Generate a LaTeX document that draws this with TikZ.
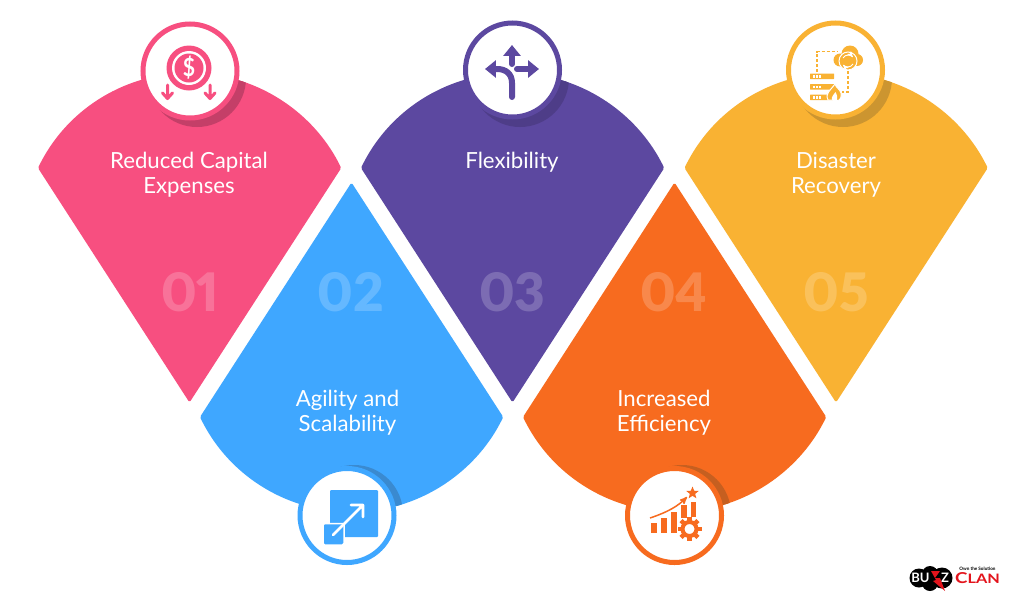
\documentclass[tikz,border=0pt]{standalone}
\usepackage{graphicx}
\usepackage{fontspec}
\setmainfont{Lato}
\newfontfamily\numfont[Numbers=Proportional]{Lato Black}
\usetikzlibrary{arrows, arrows.meta, shapes.geometric}
\definecolor{pinkc}{HTML}{F74F80}
\definecolor{pinkd}{HTML}{C43F68}
\definecolor{bluec}{HTML}{3FA7FF}
\definecolor{blued}{HTML}{3A8AD0}
\definecolor{purplec}{HTML}{5C48A0}
\definecolor{purpled}{HTML}{4E3D88}
\definecolor{orangec}{HTML}{F76B1F}
\definecolor{oranged}{HTML}{C65F20}
\definecolor{yellowc}{HTML}{F9B233}
\definecolor{yellowd}{HTML}{CC9530}
\definecolor{logored}{HTML}{E3141C}
\newcommand{\petaldown}[1]{(#1,402.5) -- ++(-151.5,-234.5) arc[start angle=205.8, end angle=334.2, radius=168.4pt] -- cycle}
\newcommand{\petalup}[1]{(#1,182.5) -- ++(-151.5,234.5) arc[start angle=154.2, end angle=25.8, radius=168.4pt] -- cycle}
\tikzset{
	petal/.style={rounded corners=1.5pt},
	ring/.style={circle, draw=#1, line width=5pt, fill=white, minimum size=94pt, inner sep=0pt},
	title/.style={text=white, align=center, font=\fontsize{22.2}{25}\selectfont},
	number/.style={text=white, text opacity=0.2, font=\numfont\fontsize{53}{53}\selectfont},
	bigarrow/.style={line width=#1, line cap=round, -{Triangle[length=1.8*#1, width=2.8*#1]}}
}
\begin{document}
\begin{tikzpicture}[x=1pt, y=1pt, yscale=-1, >=stealth']
	\useasboundingbox (0,0) rectangle (1024,608);
	\fill[white] (0,0) rectangle (1024,608);

	% petals with the shadow of their circle
	\foreach \px/\colname/\sx/\sy in {189.5/pink/197/78, 512.5/purple/520/78, 836/yellow/843/78} {
		\fill[\colname c, petal] \petaldown{\px};
		\begin{scope}
			\clip \petaldown{\px};
			\fill[\colname d] (\sx,\sy) circle (49pt);
		\end{scope}
	}
	\foreach \px/\colname/\sx/\sy in {351.5/blue/354/514, 674.5/orange/682/514} {
		\fill[\colname c, petal] \petalup{\px};
		\begin{scope}
			\clip \petalup{\px};
			\fill[\colname d] (\sx,\sy) circle (49pt);
		\end{scope}
	}

	\node (num1) [number] at (190.5,292.5) {01};
	\node (num2) [number] at (351,292.5) {02};
	\node (num3) [number] at (512.5,292.5) {03};
	\node (num4) [number] at (674,292.5) {04};
	\node (num5) [number] at (836,292.5) {05};

	\node (capex) [title] at (189,175) {Reduced Capital\\Expenses};
	\node (agile) [title] at (347.5,413) {Agility and\\Scalability};
	\node (flex) [title] at (512,162.5) {Flexibility};
	\node (effic) [title] at (664,413) {Increased\\Efficiency};
	\node (disaster) [title] at (836,175) {Disaster\\Recovery};

	\node (ring1) [ring=pinkc] at (190,71) {};
	\node (ring2) [ring=bluec] at (347,515.5) {};
	\node (ring3) [ring=purplec] at (512.5,70) {};
	\node (ring4) [ring=orangec] at (674.5,515.5) {};
	\node (ring5) [ring=yellowc] at (835.5,70) {};

	% coin and arrows
	\fill[pinkc] (189,68) circle (22.5pt);
	\fill[white] (189,68) circle (17pt);
	\fill[pinkc] (189,68) circle (14.5pt);
	\node (dollar) [text=white, font=\bfseries\fontsize{25}{25}\selectfont] at (189,68) {\scalebox{0.85}[1]{\$}};
	\foreach \ax in {167.5, 210} {
		\draw[pinkc, line width=3pt, line cap=round, line join=round] (\ax,85) -- (\ax,98) (\ax-5,93) -- (\ax,98.5) -- (\ax+5,93);
	}

	% three way arrows
	\draw[purplec, bigarrow=6pt] (512,64) -- (512,45);
	\draw[purplec, bigarrow=6pt] (512,97) -- (512,83) .. controls (512,74) and (506,69) .. (497,69) -- (485,69);
	\draw[purplec, bigarrow=6pt] (517,69) -- (539,69);

	% expand
	\fill[bluec, rounded corners=1pt] (330,490) rectangle (378,537);
	\fill[bluec, draw=white, line width=1.5pt, rounded corners=1.5pt] (323,523.5) rectangle (344,545);
	\draw[white, line width=2.6pt, line cap=round, line join=round] (333,535) -- (363,505) (351,505) -- (363,505) -- (363,517);

	% chart with gear
	\foreach \bx/\btop/\bbot in {651/523/533, 661/518/533, 671/511.5/533, 681/505/518, 690.5/501.5/517} {
		\fill[orangec] (\bx,\btop) rectangle (\bx+5.5,\bbot);
	}
	\draw[orangec, line width=1.5pt, ->] (650,518) .. controls (668,512) and (678,506) .. (687,497);
	\node (star) [star, star points=5, star point ratio=2.3, fill=orangec, inner sep=0pt, minimum size=13pt] at (692.5,493) {};
	\foreach \ang in {0,45,...,315} {
		\fill[orangec, rotate around={\ang:(689.5,529)}] (687.3,517) rectangle (691.7,522);
	}
	\draw[orangec, line width=4pt, fill=white] (689.5,529) circle (7pt);

	% servers, cloud, flame
	\draw[yellowc, line width=1.8pt, dash pattern=on 3pt off 2pt] (817,72) -- (817,51.5) -- (838,51.5);
	\draw[yellowc, line width=1.8pt, dash pattern=on 3pt off 2pt] (848,71) -- (848,92) -- (842,92);
	\foreach \sy in {73.5, 84, 94.5} {
		\fill[yellowc, rounded corners=.5pt] (810,\sy) rectangle (834,\sy+5.6);
		\foreach \ox in {813,816,819} {
			\fill[white] (\ox,\sy+1.5) rectangle (\ox+1.5,\sy+4);
		}
	}
	\fill[yellowc] (840,60) circle (6.5pt) (850,54) circle (8.5pt) (857,60) circle (6pt) (848,62) circle (6pt);
	\draw[white, line width=1pt, fill=yellowc] (848,61) circle (9pt);
	\draw[white, line width=1pt, ->] (843,58) arc[start angle=210, end angle=320, radius=6pt];
	\draw[white, line width=1pt, ->] (853,64) arc[start angle=30, end angle=140, radius=6pt];
	\fill[yellowc, draw=white, line width=1pt] (828,100) .. controls (825,93) and (830,91) .. (835,84) .. controls (836,88) and (840,89) .. (841,93) .. controls (842,97) and (840,100) .. (838,100.5) -- cycle;
	\fill[white] (832,100) .. controls (831,96) and (834,95) .. (835.5,92) .. controls (837,95) and (838,97) .. (837,100) -- cycle;

	% logo
	\fill[black] (919,578) circle (9.5pt) (930,574) circle (8pt) (942,578) circle (10.5pt) (930,583) circle (8pt);
	\node (logobu) [text=white, font=\bfseries\fontsize{13}{13}\selectfont, inner sep=0pt] at (920.5,578) {BU};
	\node (logoz) [text=white, font=\bfseries\fontsize{13}{13}\selectfont, inner sep=0pt] at (945,578) {Z};
	\fill[logored] (931,571) -- (940,571) -- (935,578) -- (940,578) -- (945,591) -- (933,581) -- (936,580) -- cycle;
	\node (logotag) [font=\bfseries\fontsize{4.6}{5}\selectfont, inner sep=0pt] at (977.5,568.8) {Own the Solution};
	\node (logoclan) [text=logored, font=\bfseries\fontsize{15}{15}\selectfont, inner sep=0pt] at (977.5,578.5) {\scalebox{1.25}[1]{C{\fontsize{13}{13}\selectfont LAN}}};
\end{tikzpicture}
\end{document}
